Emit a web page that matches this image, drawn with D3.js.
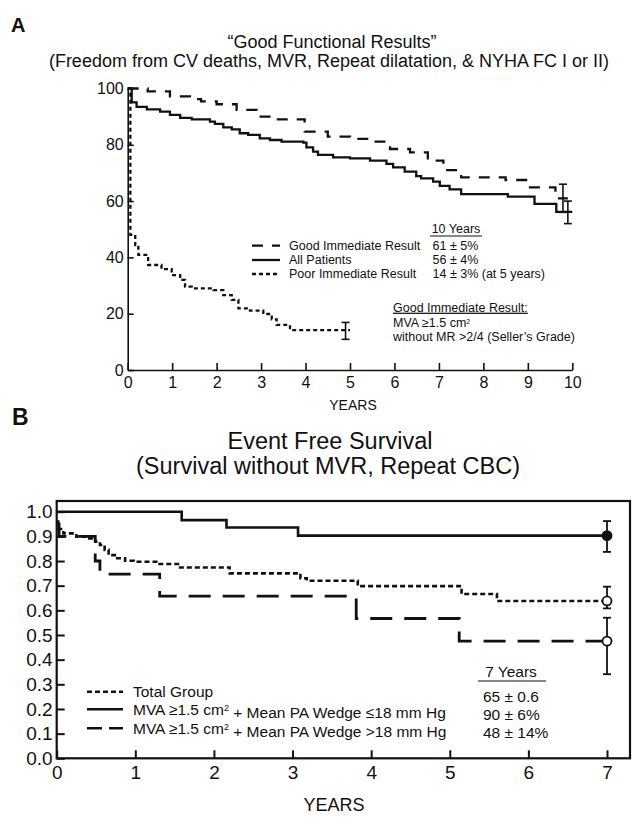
<!DOCTYPE html>
<html>
<head>
<meta charset="utf-8">
<script src="https://cdn.jsdelivr.net/npm/d3@7"></script>
<style>
  body { margin: 0; background: #fff; }
  text { font-family: "Liberation Sans", Arial, Helvetica, sans-serif; fill: #111; }
</style>
</head>
<body>
<div id="chart"></div>
<script>
// ---- panel A data (percent free of events, step points [year, value]) ----
const goodResult = [[0,100],[0.45,99],[0.95,97.2],[1.4,96.2],[1.65,95.4],[2.0,94.4],[2.45,92.4],[2.9,90],[3.3,89],
  [3.98,84.7],[4.5,82.9],[5.0,82.1],[5.5,81.1],[5.9,78.5],[6.35,77.3],[6.75,74.4],[7.1,71],[7.5,68.4],[8.5,67.5],
  [9.0,64.9],[9.62,61],[9.9,61]];
const allPatients = [[0,100],[0.09,95.1],[0.2,93.5],[0.43,92.6],[0.73,91.8],[0.95,90.6],[1.18,89.6],[1.44,89],[1.85,88.2],
  [1.96,87.4],[2.15,86.2],[2.34,85.5],[2.52,84.1],[2.71,83.5],[2.97,82.3],[3.2,81.7],[3.46,81.1],[3.95,80.8],[4.02,79.1],
  [4.17,77.6],[4.28,76.4],[4.62,75.5],[5.0,75.2],[5.45,74.4],[5.82,73.2],[5.97,72],[6.23,70.5],[6.49,68.9],[6.6,68.1],
  [6.87,66.9],[7.02,65.4],[7.24,64.2],[7.5,62.5],[8.55,61.6],[9.15,59],[9.64,56.2],[10,56.2]];
const poorResult = [[0,100],[0.06,48],[0.17,44.4],[0.24,40.9],[0.46,37.3],[0.76,35.8],[0.99,33.7],[1.18,32],[1.29,29.6],
  [1.44,29],[1.93,28.4],[2.15,26.6],[2.34,24.9],[2.49,21.9],[2.75,21.1],[3.05,19.9],[3.24,18],[3.35,16],[3.65,14.2],[5.0,14.2]];
// error bars [year, low, high]
const errorBarsA = [[9.79,56,66],[9.9,52,60],[4.9,10.9,16.9]];
const ticksXA = [0,1,2,3,4,5,6,7,8,9,10];
const ticksYA = [0,20,40,60,80,100];
const legendA = ["Good Immediate Result","All Patients","Poor Immediate Result"];
const valuesA = ["61 \u00b1 5%","56 \u00b1 4%","14 \u00b1 3% (at 5 years)"];

// ---- panel B data (event free survival) ----
const totalGroup = [[0,0.96],[0.02,0.93],[0.085,0.912],[0.25,0.899],[0.38,0.892],[0.49,0.878],[0.55,0.865],[0.61,0.845],
  [0.66,0.824],[0.74,0.811],[0.87,0.801],[0.98,0.797],[1.29,0.788],[1.57,0.774],[2.2,0.75],[3.1,0.73],[3.18,0.72],
  [3.83,0.698],[5.15,0.666],[5.6,0.638],[7,0.638]];
const wedgeLow = [[0,1.0],[1.59,0.966],[2.16,0.936],[3.07,0.903],[7,0.903]];
const wedgeHigh = [[0,0.95],[0.03,0.9],[0.49,0.8],[0.55,0.747],[1.31,0.658],[3.81,0.567],[5.12,0.475],[7,0.475]];
// end points at 7 years [year, value, low, high, filled]
const endPointsB = [[7,0.903,0.837,0.962,true],[7,0.638,0.608,0.696,false],[7,0.475,0.341,0.57,false]];
const ticksXB = [0,1,2,3,4,5,6,7];
const ticksYB = [0,0.1,0.2,0.3,0.4,0.5,0.6,0.7,0.8,0.9,1.0];
const valuesB = ["65 \u00b1 0.6","90 \u00b1 6%","48 \u00b1 14%"];

const width = 636;
const height = 820;
const svg = d3.select("#chart")
  .append("svg")
  .attr("width", width)
  .attr("height", height);

// ================= panel A =================
const xA = d3.scaleLinear().domain([0, 10]).range([127.7, 572.3]);
const yA = d3.scaleLinear().domain([0, 100]).range([370, 88.5]);

svg.append("text").attr("x", 11).attr("y", 32)
  .style("font-size", "20px").style("font-weight", "bold").text("A");
svg.append("text").attr("x", 332).attr("y", 47.5).attr("text-anchor", "middle")
  .style("font-size", "18px").text("\u201cGood Functional Results\u201d");
svg.append("text").attr("x", 329).attr("y", 67).attr("text-anchor", "middle")
  .style("font-size", "18px").text("(Freedom from CV deaths, MVR, Repeat dilatation, & NYHA FC I or II)");

// axes with inward ticks
const axisXA = svg.append("g")
  .attr("transform", `translate(0,${yA(0)})`)
  .call(d3.axisBottom(xA).tickValues(ticksXA).tickFormat(d3.format("d")).tickSizeInner(-7).tickSizeOuter(0).tickPadding(5));
const axisYA = svg.append("g")
  .attr("transform", `translate(${xA(0)},0)`)
  .call(d3.axisLeft(yA).tickValues(ticksYA).tickFormat(d3.format("d")).tickSizeInner(-6).tickSizeOuter(0).tickPadding(4));
[axisXA, axisYA].forEach(g => {
  g.selectAll("path, line").attr("stroke", "#111").attr("stroke-width", 1.6);
  g.selectAll("text").style("font-size", "16px").style("font-family", "'Liberation Sans', Arial, sans-serif").attr("fill", "#111");
});
axisXA.selectAll("text").attr("dy", "0.8em");
svg.append("text").attr("x", 353).attr("y", 410).attr("text-anchor", "middle")
  .style("font-size", "14px").text("YEARS");

// step curves
const lineA = d3.line().x(d => xA(d[0])).y(d => yA(d[1])).curve(d3.curveStepAfter);
const stylesA = [
  { data: goodResult, dash: "11,9", w: 2.3 },
  { data: allPatients, dash: null, w: 2.3 },
  { data: poorResult, dash: "4,3", w: 2.3 }
];
stylesA.forEach(s => {
  svg.append("path")
    .attr("d", lineA(s.data))
    .style("fill", "none")
    .style("stroke", "#111")
    .style("stroke-width", s.w)
    .style("stroke-dasharray", s.dash);
});

// error bars
errorBarsA.forEach(e => {
  const g = svg.append("g").style("stroke", "#111").style("stroke-width", 1.6);
  g.append("line").attr("x1", xA(e[0])).attr("x2", xA(e[0])).attr("y1", yA(e[1])).attr("y2", yA(e[2]));
  g.append("line").attr("x1", xA(e[0]) - 4).attr("x2", xA(e[0]) + 4).attr("y1", yA(e[1])).attr("y2", yA(e[1]));
  g.append("line").attr("x1", xA(e[0]) - 4).attr("x2", xA(e[0]) + 4).attr("y1", yA(e[2])).attr("y2", yA(e[2]));
});

// legend A
const legRowsA = [245.7, 260, 274];
legRowsA.forEach((y, i) => {
  svg.append("line").attr("x1", 252).attr("x2", 280).attr("y1", y).attr("y2", y)
    .style("stroke", "#111").style("stroke-width", 2.3)
    .style("stroke-dasharray", stylesA[i].dash);
  svg.append("text").attr("x", 289).attr("y", y).attr("dy", "0.35em")
    .style("font-size", "12.5px").text(legendA[i]);
  svg.append("text").attr("x", 432.5).attr("y", y).attr("dy", "0.35em")
    .style("font-size", "12.5px").text(valuesA[i]);
});
svg.append("text").attr("x", 456).attr("y", 229).attr("dy", "0.35em").attr("text-anchor", "middle")
  .style("font-size", "12.5px").text("10 Years");
svg.append("line").attr("x1", 430).attr("x2", 482).attr("y1", 236).attr("y2", 236)
  .style("stroke", "#111").style("stroke-width", 1);

// note A
svg.append("text").attr("x", 393).attr("y", 307.3).attr("dy", "0.35em")
  .style("font-size", "12.5px").style("text-decoration", "underline").text("Good Immediate Result:");
const noteA2 = svg.append("text").attr("x", 393).attr("y", 322.3).attr("dy", "0.35em").style("font-size", "12.5px");
noteA2.append("tspan").text("MVA \u22651.5 cm");
noteA2.append("tspan").attr("dy", "-0.45em").style("font-size", "7px").text("2");
svg.append("text").attr("x", 393).attr("y", 336.7).attr("dy", "0.35em")
  .style("font-size", "12.5px").text("without MR >2/4 (Seller\u2019s Grade)");

// ================= panel B =================
const xB = d3.scaleLinear().domain([0, 7]).range([56.7, 607]);
const yB = d3.scaleLinear().domain([0, 1]).range([758.3, 511.7]);

svg.append("text").attr("x", 12).attr("y", 425)
  .style("font-size", "23px").style("font-weight", "bold").text("B");
svg.append("text").attr("x", 330).attr("y", 448.5).attr("text-anchor", "middle")
  .style("font-size", "23.5px").text("Event Free Survival");
svg.append("text").attr("x", 328).attr("y", 473.5).attr("text-anchor", "middle")
  .style("font-size", "23.5px").text("(Survival without MVR, Repeat CBC)");

// frame
svg.append("rect").attr("x", 56.7).attr("y", 501).attr("width", 630 - 56.7).attr("height", 758.3 - 501)
  .style("fill", "none").style("stroke", "#111").style("stroke-width", 2.2);

const axisXB = svg.append("g")
  .attr("transform", `translate(0,${yB(0)})`)
  .call(d3.axisBottom(xB).tickValues(ticksXB).tickFormat(d3.format("d")).tickSizeInner(-8).tickSizeOuter(0).tickPadding(6));
const axisYB = svg.append("g")
  .attr("transform", `translate(${xB(0)},0)`)
  .call(d3.axisLeft(yB).tickValues(ticksYB).tickFormat(d3.format(".1f")).tickSizeInner(-8).tickSizeOuter(0).tickPadding(4));
[axisXB, axisYB].forEach(g => {
  g.select(".domain").remove();
  g.selectAll("line").attr("stroke", "#111").attr("stroke-width", 2);
  g.selectAll("text").style("font-size", "19px").style("font-family", "'Liberation Sans', Arial, sans-serif").attr("fill", "#111");
});
axisXB.selectAll("text").attr("dy", "0.8em");
svg.append("text").attr("x", 334).attr("y", 811).attr("text-anchor", "middle")
  .style("font-size", "18px").text("YEARS");

const lineB = d3.line().x(d => xB(d[0])).y(d => yB(d[1])).curve(d3.curveStepAfter);
const stylesB = [
  { data: totalGroup, dash: "5,3", w: 2.6 },
  { data: wedgeLow, dash: null, w: 2.6 },
  { data: wedgeHigh, dash: "22,12", w: 2.8 }
];
stylesB.forEach(s => {
  svg.append("path")
    .attr("d", lineB(s.data))
    .style("fill", "none")
    .style("stroke", "#111")
    .style("stroke-width", s.w)
    .style("stroke-dasharray", s.dash);
});

// error bars and end markers at 7 years
endPointsB.forEach(e => {
  const g = svg.append("g").style("stroke", "#111").style("stroke-width", 1.8);
  const cx = xB(e[0]);
  g.append("line").attr("x1", cx).attr("x2", cx).attr("y1", yB(e[2])).attr("y2", yB(e[3]));
  g.append("line").attr("x1", cx - 4).attr("x2", cx + 4).attr("y1", yB(e[2])).attr("y2", yB(e[2]));
  g.append("line").attr("x1", cx - 4).attr("x2", cx + 4).attr("y1", yB(e[3])).attr("y2", yB(e[3]));
});
endPointsB.forEach(e => {
  svg.append("circle").attr("cx", xB(e[0])).attr("cy", yB(e[1])).attr("r", 4.5)
    .style("fill", e[4] ? "#111" : "#fff").style("stroke", "#111").style("stroke-width", 1.8);
});

// legend B
const legRowsB = [691.7, 709.3, 728.3];
legRowsB.forEach((y, i) => {
  svg.append("line").attr("x1", 87).attr("x2", 123).attr("y1", y).attr("y2", y)
    .style("stroke", "#111").style("stroke-width", 2.6)
    .style("stroke-dasharray", i === 2 ? "15,7" : stylesB[i].dash);
});
svg.append("text").attr("x", 133).attr("y", legRowsB[0]).attr("dy", "0.35em")
  .style("font-size", "15.5px").text("Total Group");
const legB2 = svg.append("text").attr("x", 133).attr("y", legRowsB[1]).attr("dy", "0.35em").style("font-size", "15.5px");
legB2.append("tspan").text("MVA \u22651.5 cm");
legB2.append("tspan").attr("dy", "-0.45em").style("font-size", "9px").text("2");
legB2.append("tspan").attr("dy", "0.45em").text(" + Mean PA Wedge \u226418 mm Hg");
const legB3 = svg.append("text").attr("x", 133).attr("y", legRowsB[2]).attr("dy", "0.35em").style("font-size", "15.5px");
legB3.append("tspan").text("MVA \u22651.5 cm");
legB3.append("tspan").attr("dy", "-0.45em").style("font-size", "9px").text("2");
legB3.append("tspan").attr("dy", "0.45em").text(" + Mean PA Wedge >18 mm Hg");

svg.append("text").attr("x", 511).attr("y", 671.7).attr("dy", "0.35em").attr("text-anchor", "middle")
  .style("font-size", "15.5px").text("7 Years");
svg.append("line").attr("x1", 478).attr("x2", 546).attr("y1", 681).attr("y2", 681)
  .style("stroke", "#111").style("stroke-width", 1.2);
[696.7, 715, 732.7].forEach((y, i) => {
  svg.append("text").attr("x", 483).attr("y", y).attr("dy", "0.35em")
    .style("font-size", "15.5px").text(valuesB[i]);
});
</script>
</body>
</html>
